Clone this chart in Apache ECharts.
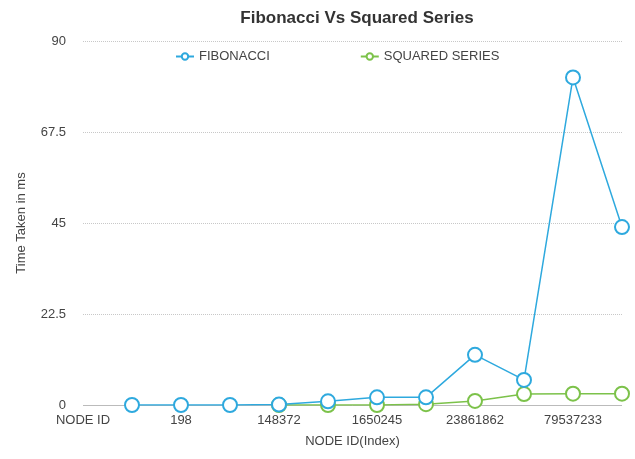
<!DOCTYPE html>
<html>
<head>
<meta charset="utf-8">
<script src="https://cdn.jsdelivr.net/npm/echarts@6/dist/echarts.min.js"></script>
<style>
  html, body { margin: 0; padding: 0; background: #fff; }
  #chart { width: 635px; height: 459px; }
</style>
</head>
<body>
<div id="chart"></div>
<script>
// x categories (only every other label is visible in the picture: 0,2,4,6,8,10)
var nodeIds = ['NODE ID', '55', '198', '4181', '148372', '514229', '1650245', '7880922',
  '23861862', '48922311', '79537233', '98546321'];

var fibonacci = [null, 0, 0, 0, 0.1, 0.9, 1.9, 1.9, 12.4, 6.2, 81, 44];
var squared   = [null, null, null, null, 0, 0, 0, 0.2, 1.0, 2.7, 2.8, 2.8];

var yMin = 0, yMax = 90, yStep = 22.5;

var blue = '#2ea9de';
var green = '#7cc24a';
var font = 'Liberation Sans';

var chart = echarts.init(document.getElementById('chart'));

chart.setOption({
  animation: false,
  textStyle: { fontFamily: font },
  title: {
    text: 'Fibonacci Vs Squared Series',
    left: 352,
    textAlign: 'center',
    top: 5,
    textStyle: { fontSize: 17, fontWeight: 'bold', color: '#333', fontFamily: font }
  },
  legend: {
    top: 45,
    left: 170,
    itemGap: 90,
    itemWidth: 18,
    itemHeight: 8,
    textStyle: { fontSize: 13, color: '#444', fontFamily: font },
    data: ['FIBONACCI', 'SQUARED SERIES']
  },
  grid: { left: 83, right: 13, top: 41, bottom: 54 },
  xAxis: {
    type: 'category',
    boundaryGap: false,
    data: nodeIds,
    name: 'NODE ID(Index)',
    nameLocation: 'middle',
    nameGap: 30,
    nameTextStyle: { fontSize: 13, color: '#444' },
    axisLine: { show: false },
    axisTick: { show: false },
    axisLabel: { interval: 1, fontSize: 13, color: '#444', margin: 9 },
    splitLine: { show: false }
  },
  yAxis: {
    type: 'value',
    min: yMin,
    max: yMax,
    interval: yStep,
    name: 'Time Taken in ms',
    nameLocation: 'middle',
    nameGap: 55,
    nameTextStyle: { fontSize: 13, color: '#444' },
    axisLine: { show: false },
    axisTick: { show: false },
    axisLabel: { fontSize: 13, color: '#444', margin: 17 },
    splitLine: {
      show: true,
      lineStyle: { color: '#c8c8c8', type: [1, 1], width: 1 }
    }
  },
  series: [
    {
      name: 'FIBONACCI',
      type: 'line',
      data: fibonacci,
      symbol: 'emptyCircle',
      symbolSize: 14,
      lineStyle: { width: 1.5, color: blue },
      itemStyle: { color: blue, borderWidth: 1.8 },
      z: 3,
      markLine: {
        silent: true,
        symbol: 'none',
        label: { show: false },
        lineStyle: { color: '#bbb', type: 'solid', width: 1 },
        data: [{ yAxis: 0 }],
        z: 1
      }
    },
    {
      name: 'SQUARED SERIES',
      type: 'line',
      data: squared,
      symbol: 'emptyCircle',
      symbolSize: 14,
      lineStyle: { width: 1.5, color: green },
      itemStyle: { color: green, borderWidth: 1.8 },
      z: 2
    }
  ]
});
</script>
</body>
</html>
